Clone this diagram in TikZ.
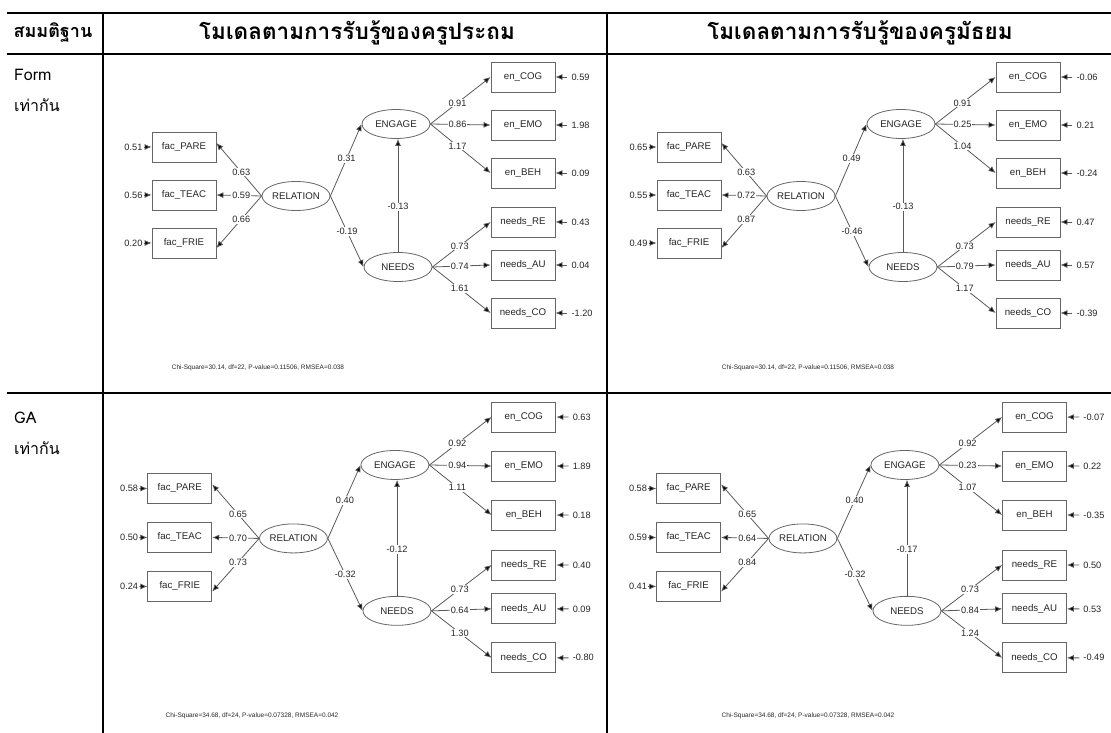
\documentclass[tikz,border=0pt]{standalone}
\usepackage{fontspec}
\setmainfont{Liberation Sans}
\newfontfamily\thaifont[Script=Thai]{Loma}
\usetikzlibrary{%
  positioning
 ,arrows.meta
 ,shapes.geometric
}
\tikzstyle{obs}=[draw=black!60,line width=0.8pt,minimum width=64,minimum height=30,
  inner sep=1pt,font=\fontsize{9.7}{11}\selectfont,text=black!85]
\tikzstyle{lat}=[ellipse,draw=black!60,line width=0.8pt,minimum width=68,minimum height=29,
  inner sep=0pt,font=\fontsize{9.7}{11}\selectfont,text=black!85]
\tikzstyle{arr}=[-{Latex[length=7pt,width=6pt,fill=black]},draw=black!65,line width=0.8pt]
\tikzstyle{lbl}=[fill=white,inner sep=1pt,font=\fontsize{9.2}{10}\selectfont,text=black!85]
\tikzstyle{num}=[inner sep=1pt,font=\fontsize{9.2}{10}\selectfont,text=black!85]

% one path diagram, in the pixel grid of the first cell
% #1 scope, #2 errors left, #3 loadings left, #4-#6 paths,
% #7 loadings ENGAGE, #8 loadings NEEDS, #9 errors right
\newcommand\semmodel[9]{%
  \begin{scope}[#1]
    \foreach \nm/\yy [count=\i] in {fac\_PARE/147,fac\_TEAC/195,fac\_FRIE/243}
      \node[obs](f\i) at (184,\yy){\nm};
    \foreach \nm/\yy [count=\i] in {en\_COG/77,en\_EMO/125,en\_BEH/173,
                                    needs\_RE/222,needs\_AU/265,needs\_CO/313}
      \node[obs](o\i) at (523,\yy){\nm};
    \node[lat](rel) at (296,196){RELATION};
    \node[lat](eng) at (396,124){ENGAGE};
    \node[lat](nee) at (398,267){NEEDS};
    %
    \foreach \v [count=\i] in {#2}{
      \node[num,anchor=east](ef\i) at ([xshift=-8pt]f\i.west){\v};
      \draw[arr] (ef\i) -- (f\i);}
    \foreach \v [count=\i] in {#9}{
      \node[num,anchor=west](eo\i) at ([xshift=15pt]o\i.east){\v};
      \draw[arr,shorten <=3pt] (eo\i) -- (o\i);}
    %
    \foreach \v [count=\i] in {#3}{
      \pgfmathsetmacro\dy{{4,0,-5}[\i-1]}
      \draw[arr] (rel.west) -- node[lbl,pos=0.45]{\v} ([yshift=\dy pt]f\i.east);}
    \foreach \v [count=\i] in {#7}
      \draw[arr] (eng.east) -- node[lbl,pos=0.45]{\v} (o\i.west);
    \foreach \v [count=\i from 4] in {#8}
      \draw[arr] (nee.east) -- node[lbl,pos=0.47]{\v} (o\i.west);
    \draw[arr] (rel.east) -- node[lbl,pos=0.52]{#4} (eng.west);
    \draw[arr] (rel.east) -- node[lbl,pos=0.5]{#5} (nee.west);
    \draw[arr] (nee.north) -- node[lbl,pos=0.4]{#6} (nee.north|-eng.south);
  \end{scope}}

\begin{document}
\begin{tikzpicture}[x=1pt,y=-1pt]
  \useasboundingbox (0,0) rectangle (1111,733);
  \tikzstyle{rule}=[line width=2pt]
  \tikzstyle{hd}=[font=\thaifont\bfseries\fontsize{22.5}{26}\selectfont]
  \tikzstyle{rowlbl}=[anchor=west,inner sep=0pt,font=\thaifont\fontsize{16}{18}\selectfont]
  \tikzstyle{fitline}=[font=\fontsize{6.5}{8}\selectfont,text=black!85]
  % table
  \draw[rule] (7,13) -- (1111,13) (7,54) -- (1111,54) (7,393) -- (1111,393);
  \draw[rule] (103,13) -- (103,733) (607,13) -- (607,733);
  \node[hd,font=\thaifont\bfseries\fontsize{18}{20}\selectfont](hyp) at (53,33){สมมติฐาน};
  \node[hd](prim) at (357,33){โมเดลตามการรับรู้ของครูประถม};
  \node[hd](sec) at (860,33){โมเดลตามการรับรู้ของครูมัธยม};
  \node[rowlbl](form) at (14,75){Form};
  \node[rowlbl](formeq) at (14,105){เท่ากัน};
  \node[rowlbl](ga) at (14,418){GA};
  \node[rowlbl](gaeq) at (14,448){เท่ากัน};
  % models
  \semmodel{}{0.51,0.56,0.20}{0.63,0.59,0.66}{0.31}{-0.19}{-0.13}
    {0.91,0.86,1.17}{0.73,0.74,1.61}{0.59,1.98,0.09,0.43,0.04,-1.20}
  \semmodel{shift={(505,0)}}{0.65,0.55,0.49}{0.63,0.72,0.87}{0.49}{-0.46}{-0.13}
    {0.91,0.25,1.04}{0.73,0.79,1.17}{-0.06,0.21,-0.24,0.47,0.57,-0.39}
  \semmodel{shift={(-7,338.5)},xscale=1.015,yscale=1.02}{0.58,0.50,0.24}{0.65,0.70,0.73}
    {0.40}{-0.32}{-0.12}{0.92,0.94,1.11}{0.73,0.64,1.30}{0.63,1.89,0.18,0.40,0.09,-0.80}
  \semmodel{shift={(501,338.5)},xscale=1.02,yscale=1.02}{0.58,0.59,0.41}{0.65,0.64,0.84}
    {0.40}{-0.32}{-0.17}{0.92,0.23,1.07}{0.73,0.84,1.24}{-0.07,0.22,-0.35,0.50,0.53,-0.49}
  % fit
  \node[fitline](chiA) at (258,368){Chi-Square=30.14, df=22, P-value=0.11506, RMSEA=0.038};
  \node[fitline](chiB) at (808,368){Chi-Square=30.14, df=22, P-value=0.11506, RMSEA=0.038};
  \node[fitline](chiC) at (252,716){Chi-Square=34.68, df=24, P-value=0.07328, RMSEA=0.042};
  \node[fitline](chiD) at (808,716){Chi-Square=34.68, df=24, P-value=0.07328, RMSEA=0.042};
\end{tikzpicture}
\end{document}
